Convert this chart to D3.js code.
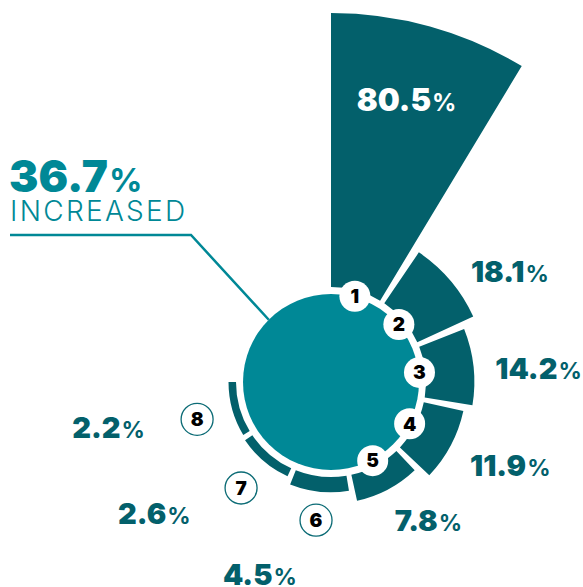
<!DOCTYPE html>
<html>
<head>
<meta charset="utf-8">
<script src="https://cdn.jsdelivr.net/npm/d3@7"></script>
<style>
  html, body { margin: 0; padding: 0; background: #fff; }
  svg { display: block; }
</style>
</head>
<body>
<svg id="chart" width="583" height="587"></svg>
<script>
// Segment numbers and their shares (%)
const segmentIds = [1, 2, 3, 4, 5, 6, 7, 8];
const segmentValues = [80.5, 18.1, 14.2, 11.9, 7.8, 4.5, 2.6, 2.2];
// Headline figure shown in the hub
const hubValue = 36.7;
const hubLabel = "INCREASED";

// Value label placement around the hub: [angle in degrees clockwise from 12 o'clock, distance from centre]
const labelSpots = [[15, 292], [58.4, 210], [86.4, 208], [115.1, 198], [144.8, 169], [200.3, 205], [233.4, 220], [258.5, 227]];

const W = 583, H = 587;
const cx = 331, cy = 382;
const hubR = 88;
const innerR = 95;
const sweep = 270, gapDeg = 3;
const dark = "#03606b", hub = "#008896";

const svg = d3.select("#chart");
const g = svg.append("g").attr("transform", `translate(${cx},${cy})`);

const rad = d => d * Math.PI / 180;
const n = segmentValues.length;
const slotDeg = (sweep - gapDeg * (n - 1)) / n;

const rScale = d3.scaleLinear()
  .domain([0, d3.max(segmentValues)])
  .range([innerR, 369]);

const segs = segmentValues.map((v, i) => {
  const a0 = i * (slotDeg + gapDeg);
  return { id: segmentIds[i], value: v, a0, a1: a0 + slotDeg, mid: a0 + slotDeg / 2, spot: labelSpots[i] };
});

const arc = d3.arc()
  .innerRadius(innerR)
  .outerRadius(d => rScale(d.value))
  .startAngle(d => rad(d.a0))
  .endAngle(d => rad(d.a1));

g.selectAll("path.seg")
  .data(segs)
  .join("path")
  .attr("class", "seg")
  .attr("d", arc)
  .attr("fill", dark);

// Hub circle
g.append("circle").attr("r", hubR).attr("fill", hub);

const polar = (deg, r) => [Math.sin(rad(deg)) * r, -Math.cos(rad(deg)) * r];

// Number badges: inside ones sit on the hub rim, the thin ones sit outside
const badges = g.selectAll("g.badge")
  .data(segs)
  .join("g")
  .attr("class", "badge")
  .attr("transform", d => {
    const [x, y] = polar(d.mid, d.value > 5 ? 89 : 139);
    return `translate(${x},${y})`;
  });

badges.append("circle")
  .attr("r", d => d.value > 5 ? 15.5 : 16)
  .attr("fill", "#fff")
  .attr("stroke", d => d.value > 5 ? "none" : "#0b6b75")
  .attr("stroke-width", 1.3);

badges.append("text")
  .attr("text-anchor", "middle")
  .attr("dy", "0.36em")
  .attr("font-family", "Inter, sans-serif")
  .attr("font-weight", 900)
  .attr("font-size", 19)
  .attr("fill", "#000")
  .text(d => d.id);

// Value labels
const labels = g.selectAll("text.val")
  .data(segs)
  .join("text")
  .attr("class", "val")
  .attr("text-anchor", "middle")
  .attr("dy", "0.36em")
  .attr("font-family", "Inter, sans-serif")
  .attr("font-weight", 900)
  .attr("font-size", d => d.id === 1 ? 31 : 29)
  .attr("fill", d => d.id === 1 ? "#fff" : dark)
  .attr("x", d => polar(d.spot[0], d.spot[1])[0])
  .attr("y", d => polar(d.spot[0], d.spot[1])[1]);

labels.append("tspan").text(d => d3.format(".1f")(d.value));
labels.append("tspan")
  .attr("font-size", d => d.id === 1 ? 24 : 23)
  .attr("font-weight", 700)
  .attr("dx", 1)
  .text("%");

// Headline callout
const head = svg.append("text")
  .attr("x", 9).attr("y", 192)
  .attr("font-family", "Inter, sans-serif")
  .attr("font-weight", 900)
  .attr("font-size", 44)
  .attr("fill", hub);
head.append("tspan").text(d3.format(".1f")(hubValue));
head.append("tspan").attr("font-size", 33).attr("font-weight", 700).attr("dx", 1).text("%");

svg.append("text")
  .attr("x", 10).attr("y", 221)
  .attr("font-family", "Inter, sans-serif")
  .attr("font-weight", 300)
  .attr("font-size", 28)
  .attr("letter-spacing", 2.3)
  .attr("fill", hub)
  .text(hubLabel);

// Leader line from the callout to the hub
const tip = polar(315, hubR);
svg.append("polyline")
  .attr("points", [[10, 235], [191, 235], [cx + tip[0], cy + tip[1]]].map(p => p.join(",")).join(" "))
  .attr("fill", "none")
  .attr("stroke", hub)
  .attr("stroke-width", 2.5);
</script>
</body>
</html>
